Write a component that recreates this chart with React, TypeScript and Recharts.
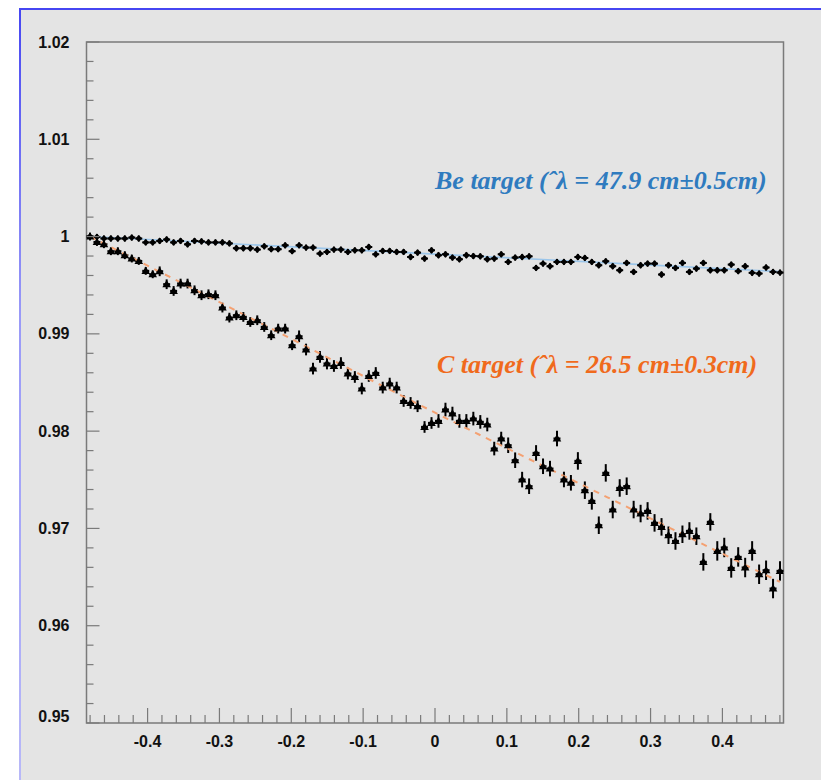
import React from 'react';
import { ComposedChart, Scatter, Line, XAxis, YAxis, ErrorBar, ReferenceArea } from 'recharts';

// Histogram binning (100 bins across the frame)
const BIN_LO = -0.485;
const BIN_W = 0.0097;

const BE_VALUES = [
  1.0, 0.99996, 0.9998, 0.9998, 0.9998, 0.9998, 0.9999, 0.9998, 0.9994, 0.9994,
  0.99955, 0.9997, 0.9994, 0.99955, 0.9992, 0.99955, 0.9995, 0.9994, 0.9994, 0.9994,
  0.9993, 0.9988, 0.9988, 0.9988, 0.99866, 0.999, 0.9987, 0.9987, 0.9991, 0.9985,
  0.9991, 0.99887, 0.99887, 0.99825, 0.99842, 0.99866, 0.99866, 0.99842, 0.99859, 0.99859,
  0.99893, 0.99818, 0.99852, 0.99852, 0.99842, 0.99842, 0.9979, 0.99835, 0.99774, 0.99859,
  0.99808, 0.99818, 0.99784, 0.99767, 0.99808, 0.998, 0.99797, 0.99767, 0.99774, 0.99818,
  0.99739, 0.99784, 0.9979, 0.99797, 0.99678, 0.99722, 0.99695, 0.99739, 0.99739, 0.99739,
  0.9979, 0.9978, 0.99739, 0.99705, 0.99746, 0.99695, 0.99654, 0.99729, 0.99637, 0.99705,
  0.99722, 0.99722, 0.9961, 0.99705, 0.99678, 0.99729, 0.99637, 0.99671, 0.99729, 0.99654,
  0.99654, 0.99654, 0.99712, 0.99644, 0.99695, 0.99627, 0.9962, 0.99682, 0.99637, 0.9963,
];

const C_VALUES = [
  1.0, 0.99944, 0.99921, 0.99849, 0.99849, 0.99808, 0.99774, 0.99749, 0.99647, 0.99612,
  0.99643, 0.9951, 0.99441, 0.99517, 0.99517, 0.99448, 0.99397, 0.99407, 0.99397, 0.9927,
  0.99167, 0.99191, 0.99174, 0.99122, 0.9914, 0.99071, 0.98986, 0.99054, 0.99054, 0.98883,
  0.98975, 0.98839, 0.98643, 0.98763, 0.98695, 0.9867, 0.987, 0.98592, 0.98557, 0.98438,
  0.98567, 0.98598, 0.98448, 0.98489, 0.98448, 0.9831, 0.9829, 0.98256, 0.98043, 0.98084,
  0.98105, 0.98222, 0.98181, 0.98105, 0.98105, 0.98129, 0.98095, 0.98068, 0.97821, 0.97924,
  0.97855, 0.97701, 0.97502, 0.97434, 0.97776, 0.97639, 0.97615, 0.97924, 0.97503, 0.97469,
  0.97694, 0.97393, 0.97283, 0.97033, 0.97571, 0.97194, 0.97416, 0.97434, 0.97194, 0.97153,
  0.9718, 0.97057, 0.97016, 0.9693, 0.96871, 0.9694, 0.96974, 0.9692, 0.96656, 0.97067,
  0.96769, 0.96804, 0.96594, 0.96707, 0.96598, 0.96769, 0.96529, 0.9657, 0.96382, 0.96563,
];

const BE_ERR = 0.0003;
const C_ERR_BY_DECILE = [0.0004, 0.0005, 0.0005, 0.0006, 0.0006, 0.0007, 0.0008, 0.0009, 0.0009, 0.001];

const BE_FIT_X = [-0.48, 0, 0.48];
const BE_FIT_Y = [1.0, 0.9982, 0.9964];
const C_FIT_X = [-0.48, -0.24, 0, 0.24, 0.48];
const C_FIT_Y = [1.0, 0.991, 0.9819, 0.9732, 0.9645];

const X_MAJOR = [-0.4, -0.3, -0.2, -0.1, 0, 0.1, 0.2, 0.3, 0.4];
const X_MAJOR_LABELS = ['-0.4', '-0.3', '-0.2', '-0.1', '0', '0.1', '0.2', '0.3', '0.4'];
const X_MINOR = [-0.48, -0.46, -0.44, -0.42, -0.38, -0.36, -0.34, -0.32, -0.28, -0.26, -0.24, -0.22,
  -0.18, -0.16, -0.14, -0.12, -0.08, -0.06, -0.04, -0.02, 0.02, 0.04, 0.06, 0.08,
  0.12, 0.14, 0.16, 0.18, 0.22, 0.24, 0.26, 0.28, 0.32, 0.34, 0.36, 0.38, 0.42, 0.44, 0.46, 0.48];

const Y_MAJOR = [0.95, 0.96, 0.97, 0.98, 0.99, 1.0, 1.01, 1.02];
const Y_MAJOR_LABELS = ['0.95', '0.96', '0.97', '0.98', '0.99', '1', '1.01', '1.02'];
const Y_MINOR = [0.952, 0.954, 0.956, 0.958, 0.962, 0.964, 0.966, 0.968, 0.972, 0.974, 0.976, 0.978,
  0.982, 0.984, 0.986, 0.988, 0.992, 0.994, 0.996, 0.998, 1.002, 1.004, 1.006, 1.008,
  1.012, 1.014, 1.016, 1.018];

const BE_LABEL = 'Be target (\u02C6\u03BB = 47.9 cm\u00B10.5cm)';
const C_LABEL = 'C target (\u02C6\u03BB = 26.5 cm\u00B10.3cm)';

const binCenter = (i: number) => BIN_LO + BIN_W * (i + 0.5);
const beData = BE_VALUES.map((y, i) => ({ x: binCenter(i), y, ex: BIN_W / 2, ey: BE_ERR }));
const cData = C_VALUES.map((y, i) => ({ x: binCenter(i), y, ex: BIN_W / 2, ey: C_ERR_BY_DECILE[Math.floor(i / 10)] }));
const beFit = BE_FIT_X.map((x, i) => ({ x, y: BE_FIT_Y[i] }));
const cFit = C_FIT_X.map((x, i) => ({ x, y: C_FIT_Y[i] }));

const X_TICKS = [...X_MAJOR, ...X_MINOR].sort((a, b) => a - b);
const Y_TICKS = [...Y_MAJOR, ...Y_MINOR].sort((a, b) => a - b);

const AXIS_COLOR = '#7a7a7a';
const TICK_FONT = "'Liberation Sans', Arial, Helvetica, sans-serif";
const SERIF = "'Liberation Serif', 'Times New Roman', serif";

const findIdx = (arr: number[], v: number) => arr.findIndex((m) => Math.abs(m - v) < 1e-9);

const YTick = (props: any) => {
  const { x, y, payload } = props;
  const v = payload.value;
  const idx = findIdx(Y_MAJOR, v);
  const major = idx >= 0;
  const dy = Math.abs(v - 0.95) < 1e-9 ? -7 : 0;
  return (
    <g>
      <line x1={x} x2={x + (major ? 13 : 7)} y1={y} y2={y} stroke={AXIS_COLOR} strokeWidth={1.2} />
      {major && (
        <text x={x - 17} y={y + dy} textAnchor="end" dominantBaseline="central" fontFamily={TICK_FONT}
          fontWeight="bold" fontSize={16} fill="#111">{Y_MAJOR_LABELS[idx]}</text>
      )}
    </g>
  );
};

const XTick = (props: any) => {
  const { x, y, payload } = props;
  const v = payload.value;
  const idx = findIdx(X_MAJOR, v);
  const major = idx >= 0;
  return (
    <g>
      <line x1={x} x2={x} y1={y} y2={y - (major ? 15 : 8)} stroke={AXIS_COLOR} strokeWidth={1.2} />
      {major && (
        <text x={x} y={y + 18} textAnchor="middle" dominantBaseline="central" fontFamily={TICK_FONT}
          fontWeight="bold" fontSize={16} fill="#111">{X_MAJOR_LABELS[idx]}</text>
      )}
    </g>
  );
};

const BeMarker = (props: any) => {
  const { cx, cy } = props;
  if (cx == null || cy == null) return null;
  const r = 3.4;
  return <polygon points={`${cx},${cy - r} ${cx + r},${cy} ${cx},${cy + r} ${cx - r},${cy}`} fill="#000" />;
};

const CMarker = (props: any) => {
  const { cx, cy } = props;
  if (cx == null || cy == null) return null;
  const r = 4.3;
  return <polygon points={`${cx},${cy - r} ${cx + r},${cy + r * 0.7} ${cx - r},${cy + r * 0.7}`} fill="#000" />;
};

export default function App() {
  return (
    <div style={{ position: 'absolute', left: 0, top: 0, width: 821, height: 780, background: '#fff', overflow: 'hidden' }}>
      <div style={{ position: 'absolute', left: 19, top: 8, width: 802, height: 772, background: '#e4e4e4' }} />
      <div style={{ position: 'absolute', left: 19, top: 8, width: 802, height: 2, background: '#4646f2' }} />
      <div style={{ position: 'absolute', left: 19, top: 8, width: 2, height: 772, background: 'linear-gradient(#4646f2, #9a9af8 40%, #b8b8f8)' }} />
      <div style={{ position: 'absolute', left: 0, top: 0 }}>
        <ComposedChart width={821} height={780} margin={{ top: 42, right: 37.5, bottom: 27, left: 26.5 }}>
          <XAxis type="number" dataKey="x" domain={[-0.485, 0.485]} ticks={X_TICKS} interval={0}
            tick={<XTick />} tickLine={false} axisLine={false} tickSize={0} tickMargin={0} height={30}
            allowDataOverflow />
          <YAxis type="number" dataKey="y" domain={[0.95, 1.02]} ticks={Y_TICKS} interval={0}
            tick={<YTick />} tickLine={false} axisLine={false} tickSize={0} tickMargin={0} width={60}
            allowDataOverflow />
          <ReferenceArea x1={-0.485} x2={0.485} y1={0.95} y2={1.02} fill="none" stroke={AXIS_COLOR}
            strokeWidth={1.5} ifOverflow="visible" />
          <Line data={beFit} dataKey="y" type="monotone" stroke="#9cc6ea" strokeWidth={1.6} dot={false}
            isAnimationActive={false} />
          <Scatter data={beData} shape={<BeMarker />} isAnimationActive={false}>
            <ErrorBar dataKey="ey" direction="y" width={0} stroke="#000" strokeWidth={2} isAnimationActive={false} />
            <ErrorBar dataKey="ex" direction="x" width={0} stroke="#000" strokeWidth={2} isAnimationActive={false} />
          </Scatter>
          <Scatter data={cData} shape={<CMarker />} isAnimationActive={false}>
            <ErrorBar dataKey="ey" direction="y" width={0} stroke="#000" strokeWidth={2} isAnimationActive={false} />
            <ErrorBar dataKey="ex" direction="x" width={0} stroke="#000" strokeWidth={2.2} isAnimationActive={false} />
          </Scatter>
          <Line data={cFit} dataKey="y" type="monotone" stroke="#f4a172" strokeWidth={2} strokeDasharray="6 6"
            dot={false} isAnimationActive={false} />
        </ComposedChart>
      </div>
      <svg width={821} height={780} style={{ position: 'absolute', left: 0, top: 0, pointerEvents: 'none' }}>
        <text x={435} y={189} fontFamily={SERIF} fontStyle="italic" fontWeight="bold" fontSize={26}
          fill="#2f7bbf">{BE_LABEL}</text>
        <text x={437} y={373} fontFamily={SERIF} fontStyle="italic" fontWeight="bold" fontSize={26}
          fill="#f06a1c">{C_LABEL}</text>
      </svg>
    </div>
  );
}
